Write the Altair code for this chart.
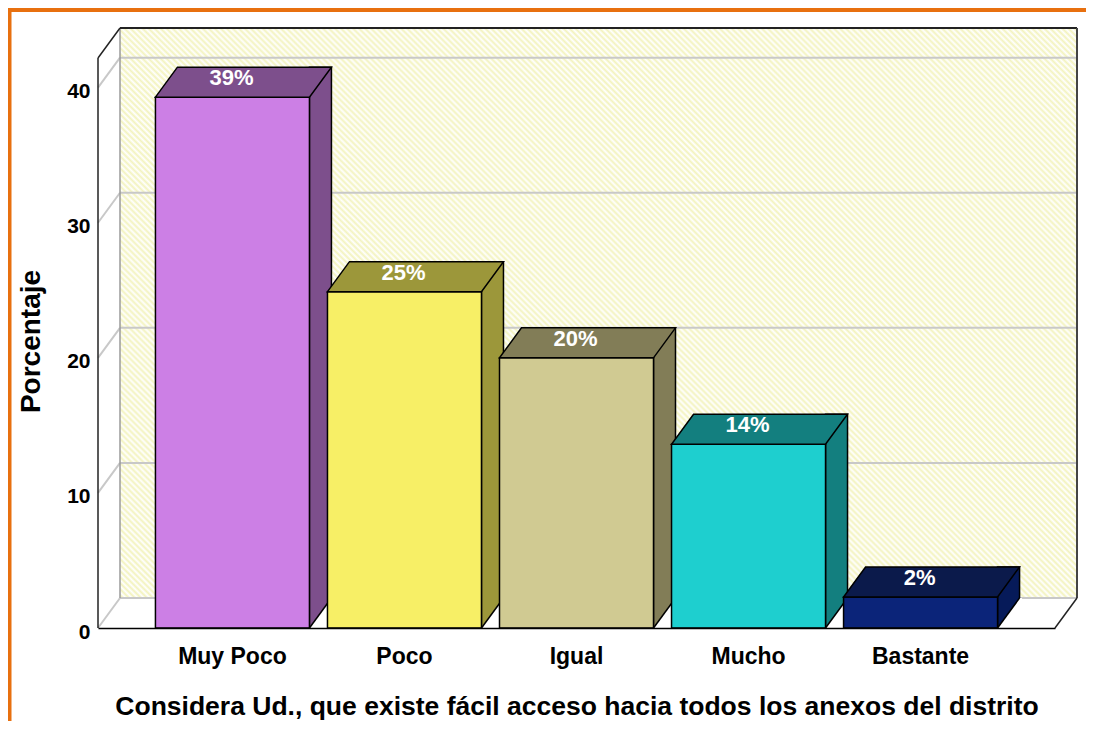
import altair as alt
import pandas as pd

# ---------------- data ----------------
categories = ["Muy Poco", "Poco", "Igual", "Mucho", "Bastante"]
percentages = [39.3, 24.9, 20.0, 13.6, 2.3]
bar_labels = ["39%", "25%", "20%", "14%", "2%"]
y_ticks = [0, 10, 20, 30, 40]

x_title = "Considera Ud., que existe fácil acceso hacia todos los anexos del distrito"
y_title = "Porcentaje"

# ---------------- styles ----------------
front_colors = ["#CC7FE5", "#F7EF66", "#D0CA92", "#1ECFCF", "#0B2479"]
side_colors = ["#7D4F8C", "#9C973A", "#827D57", "#137F7F", "#061A59"]
top_colors = ["#7D4F8C", "#9C973A", "#827D57", "#137F7F", "#0B1A4B"]

FONT = "Liberation Sans"
W, H = 957, 600          # plot area (front plane)
DX, DY = 22, 30          # 3D depth offset
BAR_W = 154
HB = BAR_W / 2
Y_MAX = 44.42
ORANGE = "#E8700F"
GRID = "#C8C8C8"

df = pd.DataFrame({
    "cat": categories, "pct": percentages, "label": bar_labels,
    "front": front_colors, "side": side_colors, "top": top_colors,
})
grid_df = pd.DataFrame({"v": y_ticks})
one = pd.DataFrame({"k": [0]})

x_scale = alt.Scale(type="band", paddingInner=0.105, paddingOuter=0.334)
y_scale = alt.Scale(domain=[0, Y_MAX], nice=False, zero=True)

x_axis = alt.Axis(
    labelFont=FONT, labelFontWeight="bold", labelFontSize=23, labelColor="black",
    labelAngle=0, labelPadding=17, ticks=False, tickSize=0,
    domain=True, domainColor="black", domainWidth=1.5, grid=False,
    titleFont=FONT, titleFontWeight="bold", titleFontSize=26.5, titleColor="black",
    titleBaseline="alphabetic", titleY=86, zindex=1,
)
y_axis = alt.Axis(
    values=y_ticks, labelFont=FONT, labelFontWeight="bold", labelFontSize=21,
    labelColor="black", labelPadding=8, labelOffset=4, labelBaseline="middle",
    ticks=False, tickSize=0, domain=False, grid=False,
    titleFont=FONT, titleFontWeight="bold", titleFontSize=28, titleColor="black",
    titleX=-67, titleY=313, titleAngle=270, titleAlign="center", titleBaseline="middle",
)

X = alt.X("cat:N", sort=categories, scale=x_scale, axis=x_axis, title=x_title)
Y = alt.Y("pct:Q", scale=y_scale, axis=y_axis, title=y_title)
Y0 = alt.Y(datum=0, scale=y_scale, axis=y_axis, title=y_title)
YV = alt.Y("v:Q", scale=y_scale, axis=y_axis, title=y_title)

# ---------------- hatch gradient for back wall ----------------
wall_w, wall_h = W, H - DY
n = int(round((wall_w + wall_h) / 6.0))
stops = []
for k in range(n):
    stops += [
        {"offset": k / n, "color": "#FFFFFF"},
        {"offset": (k + 0.5) / n, "color": "#F3F3BE"},
    ]
stops.append({"offset": 1.0, "color": "#FFFFFF"})
r = wall_h / wall_w
s = (1 + r) / (1 + r * r)
hatch = {"gradient": "linear", "x1": 0, "y1": 1, "x2": s, "y2": 1 - s * r, "stops": stops}

back_wall = alt.Chart(one).mark_rect(fill=hatch, strokeWidth=0).encode(
    x=alt.value(DX), x2=alt.value(W + DX), y=alt.value(0), y2=alt.value(H - DY)
)
back_grid = alt.Chart(grid_df).mark_rule(color=GRID, strokeWidth=2, yOffset=-DY).encode(
    y=YV, x=alt.value(DX), x2=alt.value(W + DX)
)
left_grid = alt.Chart(grid_df).mark_rule(color=GRID, strokeWidth=2, y2Offset=-DY).encode(
    y=YV, y2=alt.Y2("v:Q"), x=alt.value(0), x2=alt.value(DX)
)


def edge(x1, y1, x2, y2, color="black", w=1.5):
    return alt.Chart(one).mark_rule(color=color, strokeWidth=w).encode(
        x=alt.value(x1), y=alt.value(y1), x2=alt.value(x2), y2=alt.value(y2)
    )


edges = [
    edge(DX, 0, DX, H - DY, "#9A9A9A", 1.5),          # back wall left
    edge(DX, 0, W + DX, 0, "#222222", 2),            # back wall top
    edge(W + DX, 0, W + DX, H - DY, "#444444", 2),   # back wall right
    edge(0, DY, DX, 0, "#222222", 1.5),              # left wall top
    edge(0, DY, 0, H, "#222222", 1.5),               # left wall front
    edge(W, H, W + DX, H - DY, "#222222", 1.5),      # floor right
]

# ---------------- 3D bars ----------------
side = alt.Chart(df).mark_bar(
    width=DX, xOffset=HB + DX / 2, yOffset=-DY, stroke="black", strokeWidth=1.5
).encode(x=X, y=Y, y2=alt.datum(0), fill=alt.Fill("side:N", scale=None))

floor_tri = alt.Chart(df).mark_point(
    shape=f"M {HB} 0 L {HB + DX} {-DY} L {HB + DX + 2.5} {-DY} L {HB + DX + 2.5} 1 L {HB} 1 Z",
    size=4, filled=True, fill="white", strokeWidth=0, opacity=1,
).encode(x=X, y=Y0)

floor_diag = alt.Chart(df).mark_point(
    shape=f"M {HB} 0 L {HB + DX} {-DY}",
    size=4, filled=False, stroke="black", strokeWidth=1.5, opacity=1,
).encode(x=X, y=Y0)

front = alt.Chart(df).mark_bar(width=BAR_W, stroke="black", strokeWidth=1.5).encode(
    x=X, y=Y, y2=alt.datum(0), fill=alt.Fill("front:N", scale=None)
)

top = alt.Chart(df).mark_point(
    shape=f"M {-HB} 0 L {HB} 0 L {HB + DX} {-DY} L {-HB + DX} {-DY} Z",
    size=4, filled=True, stroke="black", strokeWidth=1.5, opacity=1,
).encode(x=X, y=Y, fill=alt.Fill("top:N", scale=None))

text = alt.Chart(df).mark_text(
    dy=-19, dx=-1, color="white", font=FONT, fontSize=22, fontWeight="bold",
    baseline="middle", align="center",
).encode(x=X, y=Y, text="label:N")

# ---------------- orange frame ----------------
frame_top = alt.Chart(one).mark_rule(color=ORANGE, strokeWidth=5).encode(
    x=alt.value(-91), x2=alt.value(W + 40), y=alt.value(-18.5)
)
frame_left = alt.Chart(one).mark_rule(color=ORANGE, strokeWidth=5).encode(
    x=alt.value(-89), y=alt.value(-21), y2=alt.value(H + 100)
)

chart = alt.layer(
    back_wall, back_grid, left_grid, *edges,
    side, floor_tri, floor_diag, front, top, text,
    frame_top, frame_left,
).properties(
    width=W, height=H,
    autosize=alt.AutoSizeParams(type="none"),
    padding={"left": 90, "top": 20, "right": 31, "bottom": 93},
    background="white",
).configure_view(strokeWidth=0)

chart.save("out.html", embed_options={"renderer": "svg", "actions": False})
